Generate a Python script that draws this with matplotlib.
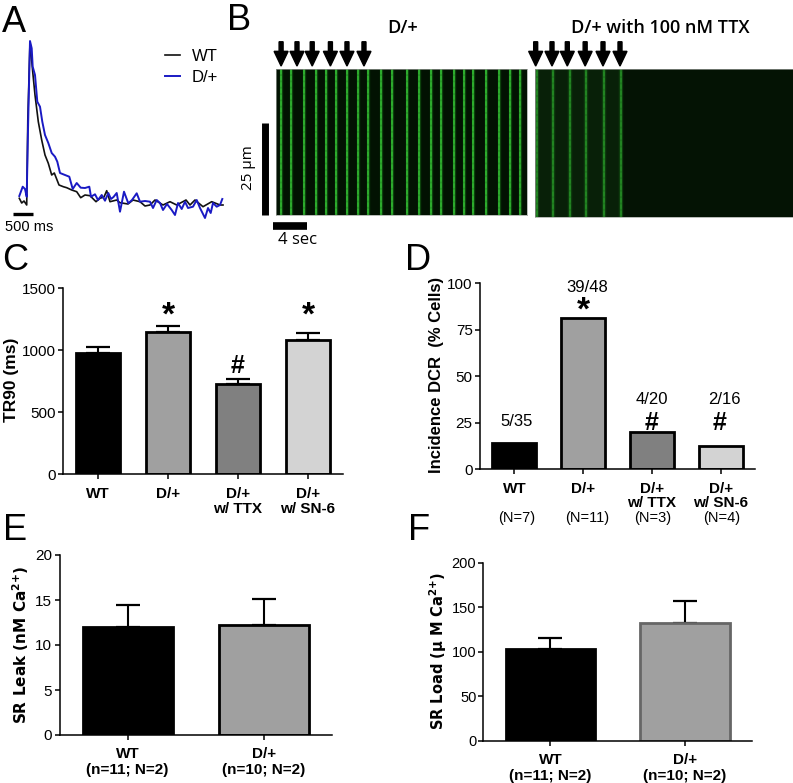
import numpy as np
import matplotlib
matplotlib.use("Agg")
import matplotlib.pyplot as plt

W, H = 793, 783
SANS = ['Liberation Sans', 'DejaVu Sans']
plt.rcParams['font.family'] = SANS
plt.rcParams['mathtext.fontset'] = 'dejavusans'

# panel A, traces
wt_x = [19.3, 21.7, 24, 26.7, 27.8, 30, 32.7, 35, 38.3, 41.7, 45, 48.3, 51.7, 54.3, 59, 63.3, 66.7, 71.7,
        76.7, 80.7, 85, 90, 96, 100, 104, 106.7, 110, 116.7, 120, 128, 133, 140, 145, 150, 155, 163, 170,
        176.7, 186, 190, 195, 203, 211.7, 215, 220, 223]
wt_y = [198.3, 203, 201, 205, 120, 41.7, 71.7, 95, 121.7, 140, 155, 163.3, 175, 173, 185, 186.7, 187.7, 190,
        191.7, 197.7, 195, 195.7, 201.7, 198.3, 197, 190.7, 201.7, 200, 202.7, 204, 200, 201.7, 206, 205,
        200, 205, 201.7, 205, 200, 205, 200, 206.7, 201.7, 203, 205, 205]
dp_x = [19.3, 22.7, 25, 26.7, 28, 30, 31.7, 32.7, 35, 37.3, 40, 42.3, 45, 48.3, 51.7, 55, 57.3, 60, 65, 69.3,
        72.7, 76.7, 80.7, 85, 89.3, 91, 95, 98, 101.7, 105, 108.3, 111, 113.5, 116.7, 120, 124, 128.3, 132,
        136.7, 140, 145, 150, 153, 156.7, 160, 163, 167, 171.7, 175, 178, 181.7, 185, 188, 193, 196.7, 200,
        205, 208, 210.7, 213, 216.7, 220, 222.3]
dp_y = [196, 186.7, 189, 196.7, 130, 41, 48.3, 66.7, 75, 101.7, 106.7, 121.7, 135, 143, 153, 156.7, 161.7, 173,
        175, 176.7, 189, 183, 187.7, 188, 186.7, 196.7, 194.3, 200, 195, 200.7, 193, 199, 197, 193, 211.7,
        191.7, 203.3, 200, 193.3, 201.7, 201, 201.7, 208, 200, 203, 210, 204, 210, 215, 203, 209, 201.7,
        208, 206.7, 200, 208, 218, 208, 213, 203, 206.7, 205, 199]

# panel B, event times (s)
stripes_ctrl = [0.6, 1.76, 3.26, 4.7, 5.9, 7.06, 8.35, 9.65, 10.8, 12.35, 13.7, 15.4, 16.8, 18.2, 19.4,
                20.9, 22.1, 23.2, 24.7, 26.2, 27.5, 28.7]
stripes_ttx = [0.24, 2.15, 4.15, 6.03, 8.1, 10.07]
arrows_ctrl = [0.6, 2.47, 4.26, 6.4, 8.35, 10.35]
arrows_ttx = [0.08, 2.0, 3.8, 5.9, 8.0, 10.0]

# panels C-F
groups = ['WT', 'D/+', 'D/+\nw/ TTX', 'D/+\nw/ SN-6']
colors = ['black', '#a0a0a0', '#808080', '#d3d3d3']
tr90 = [975, 1150, 730, 1085]
tr90_err = [50, 42, 35, 55]
dcr = [14.3, 81.25, 20, 12.5]
dcr_counts = ['5/35', '39/48', '4/20', '2/16']
dcr_n = ['(N=7)', '(N=11)', '(N=3)', '(N=4)']
sr_groups = ['WT\n(n=11; N=2)', 'D/+\n(n=10; N=2)']
sr_leak = [12.0, 12.2]
sr_leak_err = [2.5, 2.9]
sr_load = [103, 132]
sr_load_err = [12, 25]


def panel(l, t, r, b):
    return fig.add_axes([l / W, 1 - b / H, (r - l) / W, (b - t) / H])


def label(x, y, s, **kw):
    kw.setdefault('ha', 'center')
    kw.setdefault('va', 'center')
    fig.text(x / W, 1 - y / H, s, **kw)


def bars(ax, vals, errs, cols, width, edge='black'):
    x = np.arange(len(vals))
    if errs is not None:
        ax.errorbar(x, vals, yerr=[np.zeros(len(errs)), errs], fmt='none', ecolor='black',
                    elinewidth=1.5, capsize=8.3, capthick=1.6, zorder=1)
    ax.bar(x, vals, width, color=cols, edgecolor=edge, linewidth=2, zorder=2)
    for s in ['top', 'right']:
        ax.spines[s].set_visible(False)
    for s in ['left', 'bottom']:
        ax.spines[s].set_linewidth(1.1)
    ax.tick_params(length=3.8, width=1.1)
    ax.set_xticks(x)
    ax.set_xlim(-0.5, len(vals) - 0.5)


fig = plt.figure(figsize=(W / 100, H / 100), dpi=100)

for x, y, s in [(14, 22, 'A'), (239, 21, 'B'), (15, 260, 'C'), (418, 260, 'D'), (15, 531, 'E'), (419, 530, 'F')]:
    label(x, y, s, fontsize=26)

# A
ax = panel(0, 30, 235, 235)
ax.plot(wt_x, wt_y, color='#111111', lw=1.2, label='WT')
ax.plot(dp_x, dp_y, color='#1a1ac4', lw=1.4, label='D/+')
ax.plot([13, 33], [214, 214], color='black', lw=2.4, solid_capstyle='butt')
ax.set_xlim(0, 235)
ax.set_ylim(235, 30)
ax.axis('off')
ax.legend(loc='upper left', bbox_to_anchor=(165 / W, 1 - 49 / H), bbox_transform=fig.transFigure, frameon=False,
          fontsize=12, handlelength=0.9, handletextpad=0.7, labelspacing=0.35, borderpad=0, borderaxespad=0)
label(29, 227, '500 ms', fontsize=10.5)

# B
for l, r, b, stripes, arrows, bg in [(276, 527, 215, stripes_ctrl, arrows_ctrl, '#021202'),
                                     (535, 793, 217, stripes_ttx, arrows_ttx, '#041304')]:
    ax = panel(l, 69, r, b)
    ax.set_facecolor(bg)
    ax.set_xlim(0, (r - l) / 8.5)
    top = (b - 69) / 3.68
    ax.set_ylim(0, top)
    if stripes is stripes_ttx:
        ax.axvspan(0, stripes[-1] + 0.3, color='#082008', lw=0)
        ax.vlines(stripes, 0, top, color='#22a022', lw=3.2, alpha=0.22)
        ax.vlines(stripes, 0, top, color='#30b030', lw=1.2, alpha=0.75)
    else:
        ax.vlines(stripes, 0, top, color='#1fa01f', lw=2.4, alpha=0.35)
        ax.vlines(stripes, 0, top, color='#34c034', lw=1.2)
    # speckle on the lines
    ax.vlines(stripes, 0, top, color='#052005', lw=1.3, alpha=0.15, linestyles=(0, (1, 2.5)))
    for t in arrows:
        ax.arrow(t, top + 7.4, 0, -6.6, width=0.47, head_width=1.65, head_length=4.0,
                 length_includes_head=True, color='black', clip_on=False)
    ax.set_xticks([])
    ax.set_yticks([])
    for s in ax.spines.values():
        s.set_color('#9a9f9a')
        s.set_linewidth(0.5)
    if stripes is stripes_ctrl:
        ax.plot([-0.35, 3.65], [-2.95, -2.95], color='black', lw=5.5, solid_capstyle='butt', clip_on=False)
        ax.plot([-1.3, -1.3], [0, 25], color='black', lw=5, solid_capstyle='butt', clip_on=False)
label(402.7, 28, 'D/+', fontsize=13, family='Open Sans', fontweight='semibold')
label(660.6, 28, 'D/+ with 100 nM TTX', fontsize=13, family='Open Sans', fontweight='semibold')
label(249, 168, '25 µm', fontsize=11, family='Open Sans', rotation=90)
label(298, 240, '4 sec', fontsize=12, family='Open Sans')

# C
ax = panel(63, 288.3, 343, 474.3)
bars(ax, tr90, tr90_err, colors, 0.635)
ax.set_ylim(0, 1500)
ax.set_yticks([0, 500, 1000, 1500])
ax.tick_params(axis='y', labelsize=11, pad=1.5)
ax.set_xticklabels(groups, fontsize=11, fontweight='bold', linespacing=1.15)
ax.tick_params(axis='x', pad=5)
label(11.5, 380, 'TR90 (ms)', rotation=90, fontsize=12.5, fontweight='bold')
for i, s in [(1, '*'), (3, '*')]:
    ax.text(i, 1280, s, ha='center', va='center', fontsize=24, fontweight='bold')
ax.text(2, 875, '#', ha='center', va='center', fontsize=18, fontweight='bold')

# D
ax = panel(480, 283.3, 755, 469.3)
bars(ax, dcr, None, colors, 0.64)
ax.set_ylim(0, 100)
ax.set_yticks([0, 25, 50, 75, 100])
ax.tick_params(axis='y', labelsize=11, pad=1.5)
ax.set_xticklabels(groups, fontsize=11, fontweight='bold', linespacing=1.0)
ax.tick_params(axis='x', pad=5)
label(437, 375, 'Incidence DCR  (% Cells)', rotation=90, fontsize=12, fontweight='bold')
for x, y, s in [(517, 422, dcr_counts[0]), (586.7, 287, dcr_counts[1]), (651.7, 399, dcr_counts[2]), (724, 399, dcr_counts[3])]:
    label(x, y, s, fontsize=12)
label(583.7, 311, '*', fontsize=24, fontweight='bold')
label(652, 423, '#', fontsize=18, fontweight='bold')
label(720, 423, '#', fontsize=18, fontweight='bold')
for x, s in zip([517, 587, 653, 722], dcr_n):
    label(x, 518, s, fontsize=10.5)

# E
ax = panel(59.5, 555, 332, 735)
bars(ax, sr_leak, sr_leak_err, colors[:2], 0.66)
ax.set_ylim(0, 20)
ax.set_yticks([0, 5, 10, 15, 20])
ax.tick_params(axis='y', labelsize=11, pad=1.5)
ax.set_xticklabels(sr_groups, fontsize=11, fontweight='bold', linespacing=1.15)
ax.tick_params(axis='x', pad=5)
label(21, 645, r'SR Leak (nM Ca$^{\mathbf{2{+}}}$)', rotation=90, fontsize=11, family='DejaVu Sans', fontweight='bold')

# F
ax = panel(483, 562.7, 752.4, 740.7)
bars(ax, sr_load, sr_load_err, ['black', '#a0a0a0'], 0.665)
ax.patches[1].set_edgecolor('#666666')
ax.set_ylim(0, 200)
ax.set_yticks([0, 50, 100, 150, 200])
ax.tick_params(axis='y', labelsize=10.5, pad=1)
ax.set_xticklabels(sr_groups, fontsize=11, fontweight='bold', linespacing=1.15)
ax.tick_params(axis='x', pad=5)
label(438, 651, r'SR Load ($\mathbf{\mu}$ M Ca$^{\mathbf{2{+}}}$)', rotation=90, fontsize=10.5, family='DejaVu Sans', fontweight='bold')

fig.savefig('out.png', dpi=100)
